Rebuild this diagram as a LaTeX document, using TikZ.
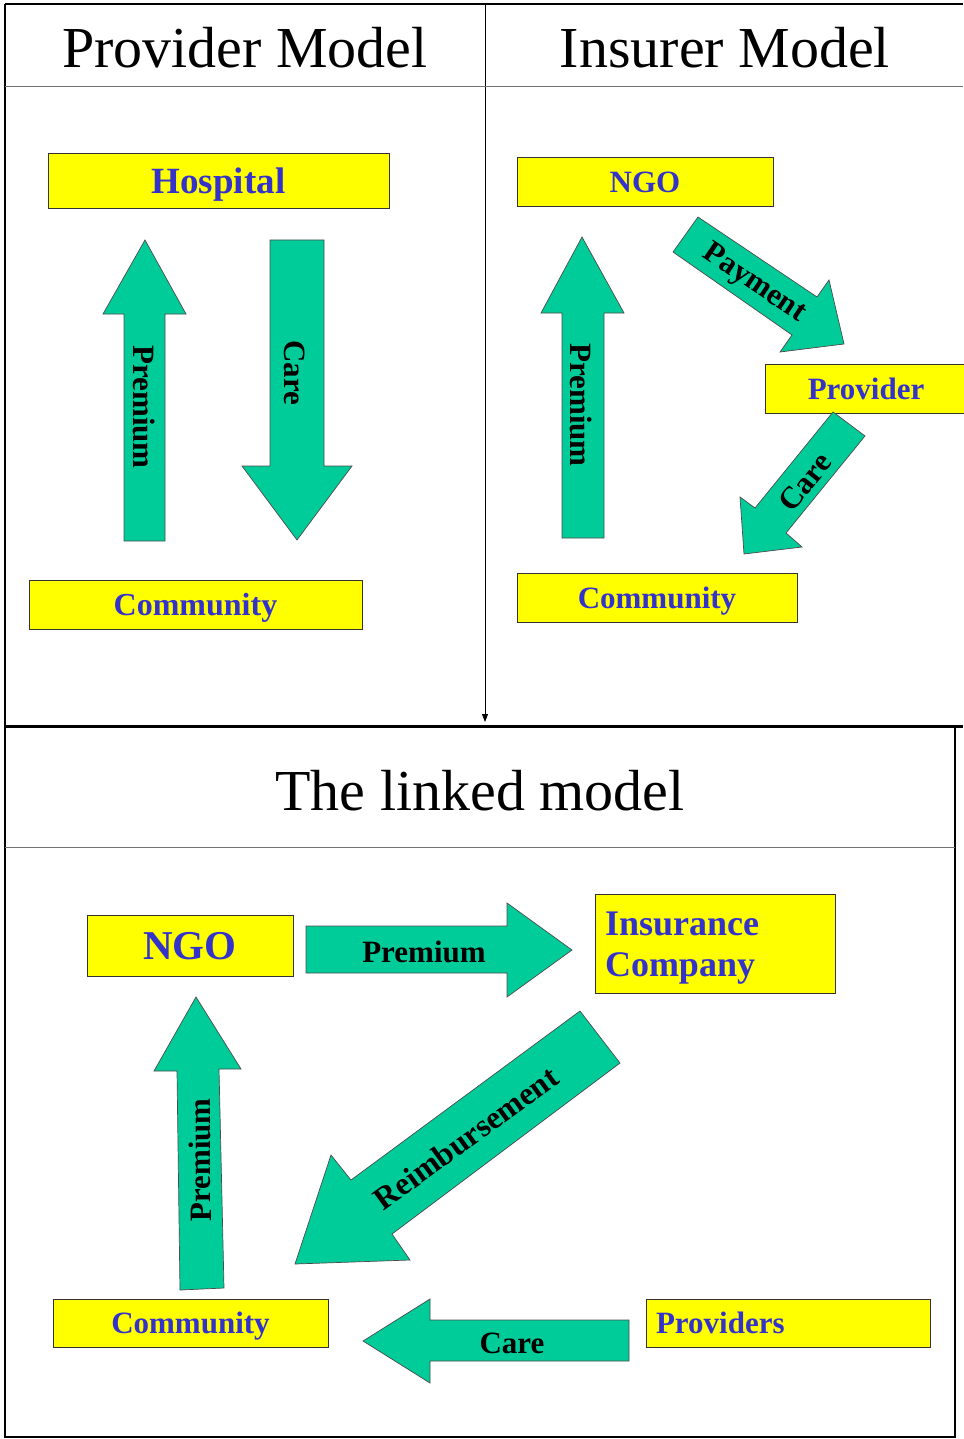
\documentclass[tikz,border=0pt]{standalone}
\usepackage{fontspec}
\setmainfont{Liberation Serif}
\usetikzlibrary{arrows.meta}

\definecolor{flowgreen}{HTML}{00CC99}
\definecolor{partyyellow}{HTML}{FFFF00}
\definecolor{partyblue}{HTML}{3333CC}

\begin{document}
\begin{tikzpicture}[
        x={(1pt,0pt)},
        y={(0pt,-1pt)},
        panel-line/.style={
            line width=2pt,
        },
        panel-rule/.style={
            line width=0.8pt,
            black!55,
        },
        heading/.style={
            anchor=base,
            font=\fontsize{58}{60}\selectfont,
        },
        party/.style={
            draw=black!80,
            line width=0.8pt,
            fill=partyyellow,
            text=partyblue,
            inner sep=0pt,
            text height={0.68*#1pt},
            text depth=0pt,
            font={\fontsize{#1}{#1pt}\selectfont\bfseries},
        },
        flow/.style={
            draw=black!70,
            line width=0.7pt,
            fill=flowgreen,
        },
        flow-label/.style={
            inner sep=0pt,
            font={\fontsize{#1}{#1pt}\selectfont\bfseries},
        },
    ]
    \useasboundingbox (0,0) rectangle (963,1439);

    % Panel frame.
    \coordinate (top-left) at (5,4);
    \coordinate (top-right) at (963,4);
    \coordinate (top-mid) at (485,4);
    \coordinate (split-left) at (5,726);
    \coordinate (split-right) at (963,726);
    \coordinate (split-mid) at (485,722);
    \coordinate (low-right) at (955,726);
    \coordinate (bottom-left) at (5,1437);
    \coordinate (bottom-right) at (955,1437);

    \draw[panel-line] (top-left) -- (top-right);
    \draw[panel-line] (top-left) -- (bottom-left) -- (bottom-right) -- (low-right);
    \draw[line width=3pt] (split-left) -- (split-right);
    \draw[line width=0.8pt, -{Triangle[length=8pt, width=6pt]}] (top-mid) -- (split-mid);
    \draw[panel-rule] (5,86) -- (963,86);
    \draw[panel-rule] (5,847) -- (955,847);

    % Panel headings.
    \node[heading] (provider-title) at (245,68) {Provider Model};
    \node[heading] (insurer-title) at (725,68) {Insurer Model};
    \node[heading] (linked-title) at (480,810) {The linked model};

    % Provider model.
    \node[party=37, minimum width=341, minimum height=55] (hospital) at (218.5,180.5) {Hospital};
    \node[party=32, minimum width=333, minimum height=49] (community-p) at (195.5,604.5) {Community};

    \draw[flow] (124,541) -- (165,541) -- (165,314) -- (186,314) -- (145,240) -- (103,314) -- (124,314) -- cycle;
    \draw[flow] (270,240) -- (324,240) -- (324,466) -- (352,466) -- (297,540) -- (242,466) -- (270,466) -- cycle;
    \node[flow-label=31, rotate=-90] (premium-p) at (144,407) {Premium};
    \node[flow-label=31, rotate=-90] (care-p) at (295,373) {Care};

    % Insurer model.
    \node[party=31, minimum width=256, minimum height=49] (ngo-i) at (645,181.5) {NGO};
    \node[party=31, minimum width=202, minimum height=49] (provider-i) at (866,388.5) {Provider};
    \node[party=31, minimum width=280, minimum height=49] (community-i) at (657,597.5) {Community};

    \draw[flow] (562,538) -- (604,538) -- (604,313) -- (624,313) -- (582,237) -- (541,313) -- (562,313) -- cycle;
    \draw[flow] (698,217) -- (817,297) -- (829,280) -- (844,344) -- (780,352) -- (792,335) -- (673,252) -- cycle;
    \draw[flow] (833,412) -- (865,436) -- (786,533) -- (802,547) -- (744,554) -- (740,497) -- (755,508) -- cycle;
    \node[flow-label=31, rotate=-90] (premium-i) at (581,405) {Premium};
    \node[flow-label=31, rotate=-34] (payment-i) at (754,284) {Payment};
    \node[flow-label=31, rotate=51] (care-i) at (805,482) {Care};

    % Linked model.
    \node[party=41, minimum width=206, minimum height=61] (ngo-l) at (190,945.5) {NGO};
    \node[party=36, font={\fontsize{36}{41pt}\selectfont\bfseries}, text depth=41pt,
        minimum width=240, minimum height=99,
        text width=220, inner xsep=10pt, align=left] (insurer-l) at (715,943.5) {Insurance\\Company};
    \node[party=31, minimum width=275, minimum height=48] (community-l) at (190.5,1323) {Community};
    \node[party=31, minimum width=284, minimum height=48,
        text width=264, inner xsep=10pt, align=left] (providers-l) at (788,1323) {Providers};

    \draw[flow] (306,926) -- (507,926) -- (507,903) -- (572,950) -- (507,997) -- (507,973) -- (306,973) -- cycle;
    \draw[flow] (180,1290) -- (224,1288) -- (219,1069) -- (241,1069) -- (196,997) -- (154,1071) -- (177,1071) -- cycle;
    \draw[flow] (580,1011) -- (620,1063) -- (392,1234) -- (410,1260) -- (295,1264) -- (331,1155) -- (351,1180) -- cycle;
    \draw[flow] (629,1320) -- (629,1361) -- (430,1361) -- (430,1383) -- (363,1341) -- (430,1299) -- (430,1320) -- cycle;
    \node[flow-label=31] (premium-l) at (424,952) {Premium};
    \node[flow-label=31, rotate=90.5] (premium-up-l) at (200,1160) {Premium};
    \node[flow-label=32, rotate=36] (reimbursement-l) at (466,1138) {Reimbursement};
    \node[flow-label=31] (care-l) at (512,1343) {Care};
\end{tikzpicture}
\end{document}
